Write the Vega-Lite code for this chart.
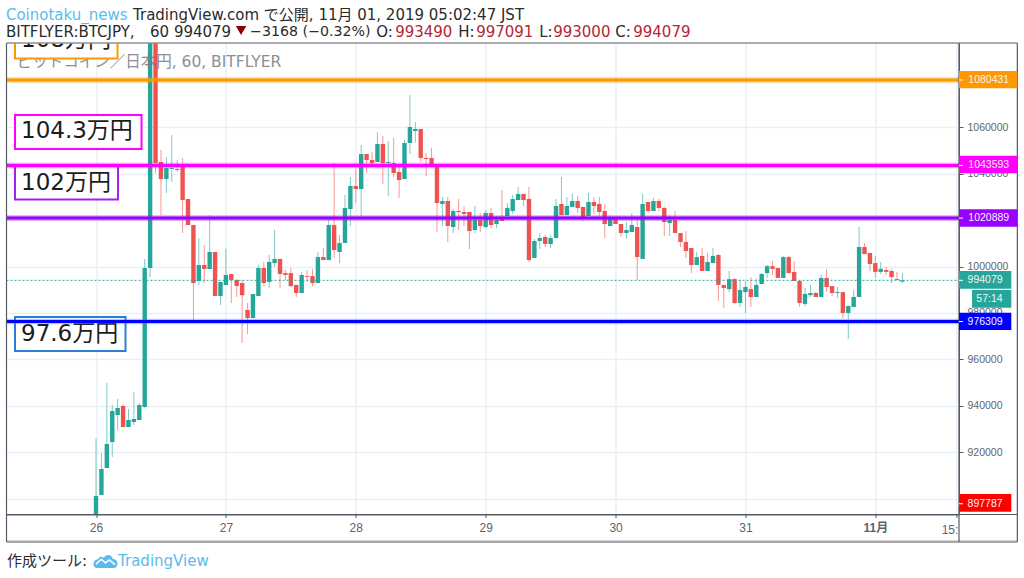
{
  "$schema": "https://vega.github.io/schema/vega-lite/v6.json",
  "width": 952.5,
  "height": 471.5,
  "autosize": "none",
  "padding": {"left": 6.5, "top": 43, "right": 65, "bottom": 63.5},
  "background": "white",
  "config": {"view": {"stroke": null}},
  "datasets": {
    "candles": [
      {"h":0,"o":890800,"c":901100,"hi":926100,"lo":890800,"dir":"up"},
      {"h":1,"o":901600,"c":912800,"hi":919700,"lo":901600,"dir":"up"},
      {"h":2,"o":913200,"c":923500,"hi":949800,"lo":913200,"dir":"up"},
      {"h":3,"o":924400,"c":937800,"hi":940300,"lo":917900,"dir":"up"},
      {"h":4,"o":936000,"c":939100,"hi":942900,"lo":929600,"dir":"up"},
      {"h":5,"o":939900,"c":930900,"hi":940800,"lo":930900,"dir":"down"},
      {"h":6,"o":930900,"c":933900,"hi":938600,"lo":930900,"dir":"up"},
      {"h":7,"o":933000,"c":934300,"hi":945900,"lo":931700,"dir":"up"},
      {"h":8,"o":933900,"c":940300,"hi":941200,"lo":933900,"dir":"up"},
      {"h":9,"o":939500,"c":999400,"hi":1003300,"lo":939100,"dir":"up"},
      {"h":10,"o":999400,"c":1100000,"hi":1100000,"lo":995500,"dir":"up"},
      {"h":11,"o":1100000,"c":1044600,"hi":1100000,"lo":1040300,"dir":"down"},
      {"h":12,"o":1045100,"c":1037800,"hi":1050300,"lo":1022200,"dir":"down"},
      {"h":13,"o":1037800,"c":1042500,"hi":1047200,"lo":1031700,"dir":"up"},
      {"h":14,"o":1042100,"c":1042500,"hi":1056700,"lo":1036500,"dir":"up"},
      {"h":15,"o":1041600,"c":1042100,"hi":1045900,"lo":1040800,"dir":"up"},
      {"h":16,"o":1043400,"c":1028700,"hi":1046800,"lo":1014500,"dir":"down"},
      {"h":17,"o":1029100,"c":1017900,"hi":1029100,"lo":1017900,"dir":"down"},
      {"h":18,"o":1017900,"c":992900,"hi":1017900,"lo":977000,"dir":"down"},
      {"h":19,"o":993800,"c":1000700,"hi":1012300,"lo":992100,"dir":"up"},
      {"h":20,"o":1000700,"c":999000,"hi":1009300,"lo":992900,"dir":"down"},
      {"h":21,"o":999000,"c":1006300,"hi":1022200,"lo":999000,"dir":"up"},
      {"h":22,"o":1006300,"c":987300,"hi":1006300,"lo":987300,"dir":"down"},
      {"h":23,"o":987300,"c":993400,"hi":993400,"lo":983400,"dir":"up"},
      {"h":24,"o":992100,"c":996400,"hi":1007600,"lo":992100,"dir":"up"},
      {"h":25,"o":996800,"c":994200,"hi":996800,"lo":984300,"dir":"down"},
      {"h":26,"o":994200,"c":991600,"hi":994600,"lo":986900,"dir":"down"},
      {"h":27,"o":992900,"c":987700,"hi":994200,"lo":967100,"dir":"down"},
      {"h":28,"o":981300,"c":977800,"hi":984300,"lo":970900,"dir":"down"},
      {"h":29,"o":977800,"c":988200,"hi":988200,"lo":977800,"dir":"up"},
      {"h":30,"o":987300,"c":999400,"hi":1000700,"lo":987300,"dir":"up"},
      {"h":31,"o":999400,"c":992900,"hi":1002000,"lo":991600,"dir":"down"},
      {"h":32,"o":993400,"c":1002000,"hi":1005000,"lo":990800,"dir":"up"},
      {"h":33,"o":1001500,"c":1003300,"hi":1015800,"lo":999800,"dir":"up"},
      {"h":34,"o":1003300,"c":996800,"hi":1003300,"lo":990800,"dir":"down"},
      {"h":35,"o":997200,"c":996400,"hi":998500,"lo":994200,"dir":"down"},
      {"h":36,"o":997200,"c":991600,"hi":999400,"lo":991200,"dir":"down"},
      {"h":37,"o":992100,"c":988600,"hi":992100,"lo":986900,"dir":"down"},
      {"h":38,"o":988600,"c":996400,"hi":997700,"lo":988600,"dir":"up"},
      {"h":39,"o":995900,"c":995500,"hi":998500,"lo":993400,"dir":"down"},
      {"h":40,"o":995900,"c":992900,"hi":999000,"lo":991600,"dir":"down"},
      {"h":41,"o":992900,"c":1004100,"hi":1006300,"lo":992900,"dir":"up"},
      {"h":42,"o":1004100,"c":1002800,"hi":1008000,"lo":1002800,"dir":"down"},
      {"h":43,"o":1002800,"c":1017900,"hi":1020100,"lo":1002800,"dir":"up"},
      {"h":44,"o":1017900,"c":1007200,"hi":1044600,"lo":1003700,"dir":"down"},
      {"h":45,"o":1006300,"c":1010200,"hi":1013600,"lo":1001500,"dir":"up"},
      {"h":46,"o":1010200,"c":1025200,"hi":1030900,"lo":1010200,"dir":"up"},
      {"h":47,"o":1024800,"c":1034700,"hi":1038600,"lo":1017500,"dir":"up"},
      {"h":48,"o":1034700,"c":1033400,"hi":1042100,"lo":1027400,"dir":"down"},
      {"h":49,"o":1033400,"c":1048500,"hi":1052400,"lo":1021400,"dir":"up"},
      {"h":50,"o":1048500,"c":1045900,"hi":1048500,"lo":1040300,"dir":"down"},
      {"h":51,"o":1045900,"c":1044600,"hi":1049400,"lo":1042900,"dir":"down"},
      {"h":52,"o":1045100,"c":1052800,"hi":1058000,"lo":1045100,"dir":"up"},
      {"h":53,"o":1052800,"c":1044600,"hi":1056300,"lo":1035600,"dir":"down"},
      {"h":54,"o":1044600,"c":1045100,"hi":1054100,"lo":1030400,"dir":"up"},
      {"h":55,"o":1044600,"c":1040300,"hi":1055400,"lo":1038600,"dir":"down"},
      {"h":56,"o":1040800,"c":1037300,"hi":1042900,"lo":1029600,"dir":"down"},
      {"h":57,"o":1037800,"c":1053300,"hi":1054600,"lo":1037800,"dir":"up"},
      {"h":58,"o":1053300,"c":1060200,"hi":1074000,"lo":1048500,"dir":"up"},
      {"h":59,"o":1058400,"c":1059300,"hi":1062300,"lo":1053300,"dir":"up"},
      {"h":60,"o":1059300,"c":1046800,"hi":1059300,"lo":1045100,"dir":"down"},
      {"h":61,"o":1046800,"c":1046400,"hi":1049000,"lo":1039000,"dir":"down"},
      {"h":62,"o":1046800,"c":1043800,"hi":1051100,"lo":1043800,"dir":"down"},
      {"h":63,"o":1043400,"c":1027400,"hi":1043400,"lo":1014900,"dir":"down"},
      {"h":64,"o":1027000,"c":1028300,"hi":1030000,"lo":1017500,"dir":"up"},
      {"h":65,"o":1028300,"c":1017500,"hi":1030000,"lo":1010600,"dir":"down"},
      {"h":66,"o":1017100,"c":1024000,"hi":1024800,"lo":1014500,"dir":"up"},
      {"h":67,"o":1024000,"c":1023500,"hi":1029100,"lo":1015800,"dir":"down"},
      {"h":68,"o":1023500,"c":1022700,"hi":1026100,"lo":1017500,"dir":"down"},
      {"h":69,"o":1023500,"c":1015300,"hi":1023500,"lo":1007600,"dir":"down"},
      {"h":70,"o":1015800,"c":1020100,"hi":1026100,"lo":1014500,"dir":"up"},
      {"h":71,"o":1020100,"c":1017500,"hi":1023100,"lo":1014900,"dir":"down"},
      {"h":72,"o":1017100,"c":1023100,"hi":1024400,"lo":1016600,"dir":"up"},
      {"h":73,"o":1023100,"c":1017900,"hi":1025200,"lo":1016600,"dir":"down"},
      {"h":74,"o":1018400,"c":1020100,"hi":1021800,"lo":1016600,"dir":"up"},
      {"h":75,"o":1020900,"c":1019600,"hi":1033000,"lo":1019600,"dir":"down"},
      {"h":76,"o":1021800,"c":1025200,"hi":1027400,"lo":1021800,"dir":"up"},
      {"h":77,"o":1024000,"c":1029100,"hi":1030900,"lo":1022700,"dir":"up"},
      {"h":78,"o":1028700,"c":1031300,"hi":1034300,"lo":1028700,"dir":"up"},
      {"h":79,"o":1031300,"c":1028700,"hi":1031300,"lo":1026100,"dir":"down"},
      {"h":80,"o":1029100,"c":1002800,"hi":1034300,"lo":1002000,"dir":"down"},
      {"h":81,"o":1003700,"c":1011000,"hi":1011900,"lo":1003700,"dir":"up"},
      {"h":82,"o":1011000,"c":1012300,"hi":1014500,"lo":1007600,"dir":"up"},
      {"h":83,"o":1012800,"c":1009700,"hi":1013600,"lo":1008400,"dir":"down"},
      {"h":84,"o":1009700,"c":1012300,"hi":1013600,"lo":1008000,"dir":"up"},
      {"h":85,"o":1012300,"c":1026100,"hi":1029100,"lo":1012300,"dir":"up"},
      {"h":86,"o":1027000,"c":1022200,"hi":1038600,"lo":1022200,"dir":"down"},
      {"h":87,"o":1022200,"c":1026100,"hi":1030000,"lo":1022200,"dir":"up"},
      {"h":88,"o":1025700,"c":1028300,"hi":1031300,"lo":1025700,"dir":"up"},
      {"h":89,"o":1028300,"c":1025200,"hi":1030400,"lo":1023100,"dir":"down"},
      {"h":90,"o":1025700,"c":1021400,"hi":1025700,"lo":1019600,"dir":"down"},
      {"h":91,"o":1021800,"c":1027800,"hi":1031700,"lo":1021800,"dir":"up"},
      {"h":92,"o":1027800,"c":1026100,"hi":1030000,"lo":1022700,"dir":"down"},
      {"h":93,"o":1027000,"c":1023500,"hi":1030000,"lo":1021800,"dir":"down"},
      {"h":94,"o":1024000,"c":1018400,"hi":1027000,"lo":1012300,"dir":"down"},
      {"h":95,"o":1017500,"c":1021400,"hi":1022200,"lo":1017500,"dir":"up"},
      {"h":96,"o":1020500,"c":1018400,"hi":1020500,"lo":1018400,"dir":"down"},
      {"h":97,"o":1018400,"c":1014500,"hi":1018400,"lo":1012800,"dir":"down"},
      {"h":98,"o":1014500,"c":1015800,"hi":1019200,"lo":1011900,"dir":"up"},
      {"h":99,"o":1014900,"c":1017900,"hi":1023100,"lo":1014900,"dir":"up"},
      {"h":100,"o":1017100,"c":1004100,"hi":1021400,"lo":994200,"dir":"down"},
      {"h":101,"o":1003300,"c":1027000,"hi":1031300,"lo":1003300,"dir":"up"},
      {"h":102,"o":1027800,"c":1024000,"hi":1027800,"lo":1023100,"dir":"down"},
      {"h":103,"o":1024000,"c":1028300,"hi":1029600,"lo":1024000,"dir":"up"},
      {"h":104,"o":1028300,"c":1025200,"hi":1029100,"lo":1024000,"dir":"down"},
      {"h":105,"o":1025200,"c":1019200,"hi":1025700,"lo":1013200,"dir":"down"},
      {"h":106,"o":1018800,"c":1020100,"hi":1022200,"lo":1013200,"dir":"up"},
      {"h":107,"o":1020100,"c":1014500,"hi":1024000,"lo":1014500,"dir":"down"},
      {"h":108,"o":1014500,"c":1010600,"hi":1014500,"lo":1008400,"dir":"down"},
      {"h":109,"o":1010600,"c":1006700,"hi":1015300,"lo":1003700,"dir":"down"},
      {"h":110,"o":1008000,"c":1000700,"hi":1008000,"lo":997200,"dir":"down"},
      {"h":111,"o":1000700,"c":1004100,"hi":1006300,"lo":1000700,"dir":"up"},
      {"h":112,"o":1004600,"c":998100,"hi":1008000,"lo":998100,"dir":"down"},
      {"h":113,"o":998100,"c":1002000,"hi":1005900,"lo":998100,"dir":"up"},
      {"h":114,"o":1001500,"c":1004600,"hi":1008000,"lo":1001500,"dir":"up"},
      {"h":115,"o":1005000,"c":992100,"hi":1005400,"lo":985200,"dir":"down"},
      {"h":116,"o":992100,"c":990800,"hi":992100,"lo":982100,"dir":"down"},
      {"h":117,"o":990300,"c":994600,"hi":998100,"lo":989000,"dir":"up"},
      {"h":118,"o":994600,"c":984300,"hi":995100,"lo":983900,"dir":"down"},
      {"h":119,"o":984300,"c":989900,"hi":994200,"lo":982600,"dir":"up"},
      {"h":120,"o":989000,"c":991200,"hi":993800,"lo":980000,"dir":"up"},
      {"h":121,"o":990300,"c":986900,"hi":995500,"lo":982600,"dir":"down"},
      {"h":122,"o":986900,"c":992100,"hi":994600,"lo":986900,"dir":"up"},
      {"h":123,"o":992500,"c":996800,"hi":997200,"lo":992500,"dir":"up"},
      {"h":124,"o":997200,"c":1000200,"hi":1000700,"lo":995100,"dir":"up"},
      {"h":125,"o":1000200,"c":999000,"hi":1002400,"lo":996400,"dir":"down"},
      {"h":126,"o":999400,"c":995100,"hi":999400,"lo":995100,"dir":"down"},
      {"h":127,"o":995100,"c":1004100,"hi":1004600,"lo":995100,"dir":"up"},
      {"h":128,"o":1004100,"c":997200,"hi":1004600,"lo":997200,"dir":"down"},
      {"h":129,"o":997700,"c":993800,"hi":1002400,"lo":993800,"dir":"down"},
      {"h":130,"o":993800,"c":984300,"hi":994200,"lo":982600,"dir":"down"},
      {"h":131,"o":983900,"c":988200,"hi":990800,"lo":983000,"dir":"up"},
      {"h":132,"o":987700,"c":988600,"hi":992100,"lo":986900,"dir":"up"},
      {"h":133,"o":988600,"c":986900,"hi":989000,"lo":986900,"dir":"down"},
      {"h":134,"o":986900,"c":995100,"hi":996400,"lo":986900,"dir":"up"},
      {"h":135,"o":995100,"c":991200,"hi":999000,"lo":989000,"dir":"down"},
      {"h":136,"o":991600,"c":988600,"hi":991600,"lo":987300,"dir":"down"},
      {"h":137,"o":988600,"c":989000,"hi":991200,"lo":986500,"dir":"up"},
      {"h":138,"o":989000,"c":980000,"hi":989000,"lo":977800,"dir":"down"},
      {"h":139,"o":980000,"c":983000,"hi":983400,"lo":968800,"dir":"up"},
      {"h":140,"o":982600,"c":986900,"hi":989900,"lo":982600,"dir":"up"},
      {"h":141,"o":986900,"c":1008400,"hi":1017100,"lo":986900,"dir":"up"},
      {"h":142,"o":1008400,"c":1005400,"hi":1010200,"lo":1005400,"dir":"down"},
      {"h":143,"o":1005900,"c":1001100,"hi":1005900,"lo":998100,"dir":"down"},
      {"h":144,"o":1001500,"c":997700,"hi":1004600,"lo":995100,"dir":"down"},
      {"h":145,"o":997700,"c":999000,"hi":1002000,"lo":996800,"dir":"up"},
      {"h":146,"o":998500,"c":997700,"hi":999800,"lo":996400,"dir":"down"},
      {"h":147,"o":998100,"c":995500,"hi":999000,"lo":992900,"dir":"down"},
      {"h":148,"o":994600,"c":994200,"hi":997700,"lo":994200,"dir":"down"},
      {"h":149,"o":993490,"c":994079,"hi":997091,"lo":993000,"dir":"up"}
    ],
    "levels": [
      {"name":"108万円","price":1080431},
      {"name":"104.3万円","price":1043593},
      {"name":"102万円","price":1020889},
      {"name":"97.6万円","price":976309}
    ],
    "boxes": [
      {"label":"108万円","h1":-14.97,"h2":3.97,"top":1100000,"bottom":1089686,"textH":-13.86,"mid":1097660},
      {"label":"104.3万円","h1":-14.97,"h2":8.41,"top":1065335,"bottom":1050681,"textH":-13.86,"mid":1058224},
      {"label":"102万円","h1":-14.97,"h2":4.07,"top":1043354,"bottom":1028916,"textH":-13.86,"mid":1036027},
      {"label":"97.6万円","h1":-14.97,"h2":5.45,"top":978273,"bottom":963619,"textH":-13.86,"mid":970946}
    ],
    "tags": [
      {"name":"1080431","price":1080431,"h1":159.46,"h2":170.24,"top":1084299,"bottom":1076843,"textH":161.18,"tickEnd":160.2},
      {"name":"1043593","price":1043593,"h1":159.46,"h2":170.24,"top":1047793,"bottom":1040208,"textH":161.18,"tickEnd":160.2},
      {"name":"1020889","price":1020889,"h1":159.46,"h2":170.24,"top":1024692,"bottom":1017192,"textH":161.18,"tickEnd":160.2},
      {"name":"994079","price":994079,"h1":159.46,"h2":169.13,"top":998099,"bottom":990470,"textH":161.05,"tickEnd":160.2},
      {"name":"57:14","price":986100,"h1":161.87,"h2":169.13,"top":989910,"bottom":982281,"textH":162.66,"tickEnd":161.87},
      {"name":"976309","price":976309,"h1":159.46,"h2":169.13,"top":980126,"bottom":972670,"textH":161.05,"tickEnd":160.2},
      {"name":"897787","price":897787,"h1":159.46,"h2":169.13,"top":901986,"bottom":894357,"textH":161.05,"tickEnd":160.2}
    ],
    "frame": [
      {"part":"outer","h1":-16.54,"h2":170.24,"p1":1096367,"p2":881427}
    ],
    "frameLines": [
      {"h1":-16.54,"h2":170.24,"p1":893150,"p2":893150},
      {"h1":159.46,"h2":159.46,"p1":1096367,"p2":881427},
      {"h1":170.24,"h2":170.24,"p1":1096367,"p2":881427},
      {"h1":-16.54,"h2":-16.54,"p1":1096367,"p2":881427}
    ]
  },
  "layer": [
    {
      "data": {"name": "candles"},
      "mark": {"type": "rule", "strokeWidth": 1, "opacity": 0.6, "clip": true},
      "encoding": {
        "x": {
          "field": "h",
          "type": "quantitative",
          "title": null,
          "scale": {"domain": [-16.54, 159.46], "nice": false, "zero": false, "padding": 0},
          "axis": {
            "values": [0, 24, 48, 72, 96, 120, 144, 159],
            "labelExpr": "datum.value == 144 ? '11月' : datum.value == 159 ? '' : '' + (26 + datum.value / 24)",
            "labelFont": "Liberation Sans, Noto Sans CJK JP",
            "labelFontSize": 12,
            "labelFontWeight": {"condition": {"test": "datum.value == 144", "value": "bold"}, "value": "normal"},
            "labelColor": "#60646e",
            "labelPadding": 5,
            "labelFlush": false,
            "tickSize": 3,
            "tickColor": "#555a64",
            "domainColor": "#555a64",
            "grid": true,
            "gridColor": "#e9f0f5",
            "gridWidth": 1.5,
            "title": null
          }
        },
        "y": {
          "field": "lo",
          "type": "quantitative",
          "title": null,
          "scale": {"domain": [893150, 1096367], "nice": false, "zero": false},
          "axis": {
            "orient": "right",
            "values": [900000, 920000, 940000, 960000, 980000, 1000000, 1020000, 1040000, 1060000],
            "format": "d",
            "labelFont": "Liberation Sans",
            "labelFontSize": 10.5,
            "labelColor": "#60646e",
            "labelPadding": 4,
            "tickSize": 4,
            "tickColor": "#555a64",
            "domainColor": "#555a64",
            "grid": true,
            "gridColor": "#e9f0f5",
            "gridWidth": 1.5,
            "title": null
          }
        },
        "y2": {"field": "hi"},
        "color": {"field": "dir", "type": "nominal", "scale": {"domain": ["up", "down"], "range": ["#26a69a", "#ef5350"]}, "legend": null}
      }
    },
    {
      "data": {"name": "candles"},
      "mark": {"type": "bar", "size": 4.4, "clip": true},
      "encoding": {
        "x": {"field": "h", "type": "quantitative"},
        "y": {"field": "o", "type": "quantitative"},
        "y2": {"field": "c"},
        "color": {"field": "dir", "type": "nominal", "legend": null}
      }
    },
    {
      "data": {"values": [{"h": -14.66, "p": 1088393, "t": "ビットコイン／日本円, 60, BITFLYER"}]},
      "mark": {"type": "text", "align": "left", "baseline": "middle", "font": "DejaVu Sans, Noto Sans CJK JP", "fontSize": 15.5, "color": "#787b86", "opacity": 0.85},
      "encoding": {
        "x": {"field": "h", "type": "quantitative"},
        "y": {"field": "p", "type": "quantitative"},
        "text": {"field": "t"}
      }
    },
    {
      "data": {"values": [{"h": -16.54, "h2": 159.46, "price": 994079}]},
      "mark": {"type": "rule", "strokeWidth": 1, "strokeDash": [2, 2], "color": "#26a69a"},
      "encoding": {
        "x": {"field": "h", "type": "quantitative"},
        "x2": {"field": "h2"},
        "y": {"field": "price", "type": "quantitative"}
      }
    },
    {
      "data": {"name": "boxes"},
      "mark": {"type": "rect", "fill": "white", "strokeWidth": 2, "clip": true},
      "encoding": {
        "x": {"field": "h1", "type": "quantitative"},
        "x2": {"field": "h2"},
        "y": {"field": "top", "type": "quantitative"},
        "y2": {"field": "bottom"},
        "stroke": {"field": "label", "type": "nominal", "scale": {"domain": ["108万円", "104.3万円", "102万円", "97.6万円"], "range": ["#ff9800", "#ff00ff", "#a020f0", "#2a7fd5"]}, "legend": null}
      }
    },
    {
      "data": {"name": "boxes"},
      "mark": {"type": "text", "align": "left", "baseline": "middle", "font": "DejaVu Sans, Noto Sans CJK JP", "fontSize": 23, "color": "#1c1c1c", "clip": true},
      "encoding": {
        "x": {"field": "textH", "type": "quantitative"},
        "y": {"field": "mid", "type": "quantitative"},
        "text": {"field": "label"}
      }
    },
    {
      "data": {"name": "levels"},
      "mark": {"type": "rule", "strokeWidth": 5.5, "opacity": 0.4},
      "encoding": {
        "y": {"field": "price", "type": "quantitative"},
        "stroke": {"field": "name", "type": "nominal", "legend": null}
      }
    },
    {
      "data": {"name": "levels"},
      "transform": [{"filter": "datum.name == '108万円'"}],
      "mark": {"type": "rule", "strokeWidth": 3, "color": "#ff9800"},
      "encoding": {"y": {"field": "price", "type": "quantitative"}}
    },
    {
      "data": {"name": "levels"},
      "transform": [{"filter": "datum.name == '104.3万円'"}],
      "mark": {"type": "rule", "strokeWidth": 3, "color": "#ff00ff"},
      "encoding": {"y": {"field": "price", "type": "quantitative"}}
    },
    {
      "data": {"name": "levels"},
      "transform": [{"filter": "datum.name == '102万円'"}],
      "mark": {"type": "rule", "strokeWidth": 3, "color": "#9900ff"},
      "encoding": {"y": {"field": "price", "type": "quantitative"}}
    },
    {
      "data": {"name": "levels"},
      "transform": [{"filter": "datum.name == '97.6万円'"}],
      "mark": {"type": "rule", "strokeWidth": 3, "color": "#0000ff"},
      "encoding": {"y": {"field": "price", "type": "quantitative"}}
    },
    {
      "data": {"name": "frame"},
      "mark": {"type": "rule", "strokeWidth": 1.5, "color": "#8e9199"},
      "encoding": {
        "x": {"field": "h1", "type": "quantitative"},
        "x2": {"field": "h2"},
        "y": {"field": "p1", "type": "quantitative"}
      }
    },
    {
      "data": {"name": "frame"},
      "mark": {"type": "rule", "strokeWidth": 2.5, "color": "#a8a8a8"},
      "encoding": {
        "x": {"field": "h1", "type": "quantitative"},
        "x2": {"field": "h2"},
        "y": {"field": "p2", "type": "quantitative"}
      }
    },
    {
      "data": {"name": "frameLines"},
      "mark": {"type": "rule", "strokeWidth": 1.2, "color": "#555a64"},
      "encoding": {
        "x": {"field": "h1", "type": "quantitative"},
        "x2": {"field": "h2"},
        "y": {"field": "p1", "type": "quantitative"},
        "y2": {"field": "p2"}
      }
    },
    {
      "data": {"name": "tags"},
      "mark": {"type": "rect"},
      "encoding": {
        "x": {"field": "h1", "type": "quantitative"},
        "x2": {"field": "h2"},
        "y": {"field": "top", "type": "quantitative"},
        "y2": {"field": "bottom"},
        "fill": {"field": "name", "type": "nominal", "scale": {"domain": ["1080431", "1043593", "1020889", "994079", "57:14", "976309", "897787"], "range": ["#ff9800", "#ff00ff", "#9900ff", "#26a69a", "#26a69a", "#0000ff", "#ff0000"]}, "legend": null}
      }
    },
    {
      "data": {"name": "tags"},
      "mark": {"type": "rule", "strokeWidth": 1, "color": "white"},
      "encoding": {
        "x": {"field": "h1", "type": "quantitative"},
        "x2": {"field": "tickEnd"},
        "y": {"field": "price", "type": "quantitative"}
      }
    },
    {
      "data": {"name": "tags"},
      "mark": {"type": "text", "align": "left", "baseline": "middle", "font": "Liberation Sans", "fontSize": 10.5, "color": "#f4f4f4"},
      "encoding": {
        "x": {"field": "textH", "type": "quantitative"},
        "y": {"field": "price", "type": "quantitative"},
        "text": {"field": "name"}
      }
    },
    {
      "data": {"values": [{"h": 157.8, "p": 886600, "t": "15:"}]},
      "mark": {"type": "text", "align": "center", "baseline": "middle", "font": "Liberation Sans", "fontSize": 12, "color": "#60646e"},
      "encoding": {
        "x": {"field": "h", "type": "quantitative"},
        "y": {"field": "p", "type": "quantitative"},
        "text": {"field": "t"}
      }
    },
    {
      "data": {"values": [
        {"h": -16.64, "p": 1108435, "t": "Coinotaku_news"},
        {"h": 4.07, "p": 873109, "t": "TradingView"}
      ]},
      "mark": {"type": "text", "align": "left", "baseline": "middle", "font": "DejaVu Sans", "fontSize": 15, "color": "#5bbcec"},
      "encoding": {
        "x": {"field": "h", "type": "quantitative"},
        "y": {"field": "p", "type": "quantitative"},
        "text": {"field": "t"}
      }
    },
    {
      "data": {"values": [
        {"h": 6.84, "p": 1108435, "t": "TradingView.com で公開, 11月 01, 2019 05:02:47 JST"},
        {"h": -16.64, "p": 1101108, "t": "BITFLYER:BTCJPY,"},
        {"h": 9.98, "p": 1101108, "t": "60 994079"},
        {"h": 51.76, "p": 1101108, "t": "O:"},
        {"h": 66.91, "p": 1101108, "t": "H:"},
        {"h": 81.89, "p": 1101108, "t": "L:"},
        {"h": 95.93, "p": 1101108, "t": "C:"},
        {"h": -16.45, "p": 873109, "t": "作成ツール:"}
      ]},
      "mark": {"type": "text", "align": "left", "baseline": "middle", "font": "DejaVu Sans, Noto Sans CJK JP", "fontSize": 15, "color": "#2b2b2b"},
      "encoding": {
        "x": {"field": "h", "type": "quantitative"},
        "y": {"field": "p", "type": "quantitative"},
        "text": {"field": "t"}
      }
    },
    {
      "data": {"values": [{"h": 28.47, "p": 1101108, "t": "−3168 (−0.32%)"}]},
      "mark": {"type": "text", "align": "left", "baseline": "middle", "font": "DejaVu Sans", "fontSize": 14.2, "color": "#2b2b2b"},
      "encoding": {
        "x": {"field": "h", "type": "quantitative"},
        "y": {"field": "p", "type": "quantitative"},
        "text": {"field": "t"}
      }
    },
    {
      "data": {"values": [
        {"h": 55.27, "p": 1101108, "t": "993490"},
        {"h": 70.24, "p": 1101108, "t": "997091"},
        {"h": 84.47, "p": 1101108, "t": "993000"},
        {"h": 99.26, "p": 1101108, "t": "994079"}
      ]},
      "mark": {"type": "text", "align": "left", "baseline": "middle", "font": "DejaVu Sans", "fontSize": 15, "color": "#b22833"},
      "encoding": {
        "x": {"field": "h", "type": "quantitative"},
        "y": {"field": "p", "type": "quantitative"},
        "text": {"field": "t"}
      }
    },
    {
      "data": {"values": [{"h": 26.8, "p": 1101754}]},
      "mark": {"type": "point", "shape": "triangle-down", "filled": true, "size": 110, "color": "#8b0000", "opacity": 1},
      "encoding": {
        "x": {"field": "h", "type": "quantitative"},
        "y": {"field": "p", "type": "quantitative"}
      }
    },
    {
      "data": {"values": [{"h": 1.76, "p": 873324}]},
      "mark": {"type": "point", "filled": true, "size": 576, "color": "#5bbcec", "opacity": 1, "shape": "M-0.95,0.5 C-1.1,0.2 -0.9,-0.1 -0.62,-0.1 C-0.55,-0.35 -0.25,-0.35 -0.15,-0.2 C0,-0.55 0.5,-0.55 0.6,-0.15 C0.9,-0.15 1.1,0.2 0.95,0.45 C0.9,0.6 0.7,0.62 0.55,0.62 L-0.6,0.62 C-0.75,0.62 -0.9,0.6 -0.95,0.5 Z"},
      "encoding": {
        "x": {"field": "h", "type": "quantitative"},
        "y": {"field": "p", "type": "quantitative"}
      }
    },
    {
      "data": {"values": [{"h": 1.76, "p": 873324}]},
      "mark": {"type": "point", "filled": false, "size": 576, "stroke": "white", "strokeWidth": 1.5, "opacity": 1, "shape": "M-0.8,0.3 L-0.35,-0.1 L0,0.2 L0.3,-0.05 L0.8,0.35"},
      "encoding": {
        "x": {"field": "h", "type": "quantitative"},
        "y": {"field": "p", "type": "quantitative"}
      }
    }
  ]
}
